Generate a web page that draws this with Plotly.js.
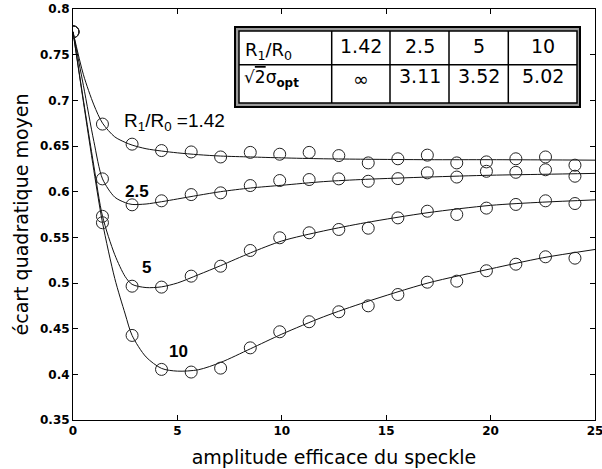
<!DOCTYPE html>
<html>
<head>
<meta charset="utf-8">
<script src="https://cdn.plot.ly/plotly-3.0.1.min.js"></script>
<style>html,body{margin:0;padding:0;background:#fff;}#chart{width:602px;height:469px;}</style>
</head>
<body>
<div id="chart"></div>
<script>
// ---- measured points (open circles) ----
const xMeas = [0, 1.41, 2.83, 4.24, 5.66, 7.07, 8.49, 9.90, 11.31, 12.73, 14.14, 15.56, 16.97, 18.38, 19.80, 21.21, 22.63, 24.04];
const meas142 = [0.775, 0.674, 0.652, 0.645, 0.6435, 0.638, 0.643, 0.641, 0.643, 0.6395, 0.6315, 0.636, 0.640, 0.6315, 0.6326, 0.636, 0.638, 0.629];
const meas25  = [0.775, 0.614, 0.5856, 0.590, 0.5968, 0.5987, 0.6067, 0.6122, 0.6133, 0.614, 0.6114, 0.6143, 0.6206, 0.616, 0.6223, 0.6212, 0.624, 0.6169];
const meas5   = [0.775, 0.573, 0.4965, 0.4955, 0.5075, 0.5184, 0.5356, 0.5495, 0.555, 0.5586, 0.560, 0.5713, 0.5786, 0.575, 0.582, 0.586, 0.590, 0.587];
const meas10  = [0.775, 0.566, 0.4426, 0.4054, 0.4025, 0.4068, 0.429, 0.4466, 0.4576, 0.4685, 0.475, 0.4874, 0.5009, 0.502, 0.5134, 0.5206, 0.5287, 0.5272];

// ---- fitted curves (solid lines) ----
const fitX   = [0, 0.5, 1.0, 1.414, 2.0, 2.5, 2.83, 3.5, 4.24, 5.0, 6.0, 7.07, 8.5, 10, 12, 14, 17, 20, 22.5, 25];
const fit142 = [0.775, 0.728, 0.695, 0.675, 0.660, 0.654, 0.651, 0.647, 0.6445, 0.6425, 0.6405, 0.639, 0.638, 0.637, 0.636, 0.6355, 0.635, 0.635, 0.6348, 0.6345];
const fit25  = [0.775, 0.716, 0.655, 0.614, 0.594, 0.588, 0.586, 0.5865, 0.589, 0.592, 0.596, 0.600, 0.604, 0.607, 0.611, 0.6135, 0.616, 0.618, 0.619, 0.620];
const fit5   = [0.775, 0.700, 0.628, 0.573, 0.531, 0.507, 0.4985, 0.4950, 0.4958, 0.500, 0.509, 0.519, 0.533, 0.546, 0.557, 0.566, 0.577, 0.585, 0.5885, 0.591];
const fit10  = [0.775, 0.698, 0.623, 0.566, 0.505, 0.466, 0.4426, 0.419, 0.4065, 0.4035, 0.405, 0.413, 0.428, 0.444, 0.463, 0.479, 0.500, 0.5155, 0.5276, 0.5367];

// ---- labels ----
const curveLabels = ["R<sub>1</sub>/R<sub>0</sub> =1.42", "2.5", "5", "10"];
const tableRow1 = ["R<sub>1</sub>/R<sub>0</sub>", "1.42", "2.5", "5", "10"];
const tableRow2 = ["√<span style=\"text-decoration:overline\">2</span>σ<sub><b>opt</b></sub>", "∞", "3.11", "3.52", "5.02"];
const xTicks = [0, 5, 10, 15, 20, 25];
const yTicks = [0.35, 0.4, 0.45, 0.5, 0.55, 0.6, 0.65, 0.7, 0.75, 0.8];
const yTickText = ["0.35", "0.4", "0.45", "0.5", "0.55", "0.6", "0.65", "0.7", "0.75", "0.8"];
const xTitle = "amplitude efficace du speckle";
const yTitle = "écart quadratique moyen";

// ---- layout geometry (pixels) ----
const M = {l: 73, r: 7, t: 9, b: 49};
const W = 602, H = 469;
const PW = W - M.l - M.r, PH = H - M.t - M.b;
const px = v => (v - M.l) / PW;       // pixel x -> paper
const py = v => (H - M.b - v) / PH;   // pixel y -> paper

const LINE = '#111';
const fits = [fit142, fit25, fit5, fit10];
const meas = [meas142, meas25, meas5, meas10];
const traces = [];
fits.forEach(f => traces.push({x: fitX, y: f, mode: 'lines', line: {color: LINE, width: 1, shape: 'spline', smoothing: 0.8}, hoverinfo: 'skip', showlegend: false}));
meas.forEach(m => traces.push({x: xMeas, y: m, mode: 'markers', marker: {symbol: 'circle-open', size: 12, color: '#222', line: {width: 1, color: '#222'}}, showlegend: false}));

// table geometry
const colEdges = [239, 331.7, 390, 449, 508.3, 577];
const shapes = [];
shapes.push({type: 'rect', xref: 'paper', yref: 'paper', x0: px(235), x1: px(580), y0: py(107), y1: py(27), line: {color: '#000', width: 2}, fillcolor: '#9a9a9a'});
shapes.push({type: 'rect', xref: 'paper', yref: 'paper', x0: px(239), x1: px(577), y0: py(103), y1: py(31), line: {color: '#000', width: 1.5}, fillcolor: '#ffffff'});
shapes.push({type: 'line', xref: 'paper', yref: 'paper', x0: px(239), x1: px(577), y0: py(64.7), y1: py(64.7), line: {color: '#000', width: 1.5}});
for (let i = 1; i < colEdges.length - 1; i++) {
  shapes.push({type: 'line', xref: 'paper', yref: 'paper', x0: px(colEdges[i]), x1: px(colEdges[i]), y0: py(103), y1: py(31), line: {color: '#000', width: 1.5}});
}

const annotations = [];
const tblFont = {family: 'DejaVu Sans', size: 19, color: '#000'};
// row 1
annotations.push({xref: 'paper', yref: 'paper', x: px(243), y: py(51), xanchor: 'left', yanchor: 'middle', text: tableRow1[0], showarrow: false, font: {family: 'DejaVu Sans', size: 18, color: '#000'}});
for (let i = 1; i < 5; i++) {
  annotations.push({xref: 'paper', yref: 'paper', x: px((colEdges[i] + colEdges[i + 1]) / 2), y: py(46), xanchor: 'center', yanchor: 'middle', text: tableRow1[i], showarrow: false, font: tblFont});
}
// row 2
annotations.push({xref: 'paper', yref: 'paper', x: px(242), y: py(78), xanchor: 'left', yanchor: 'middle', text: tableRow2[0], showarrow: false, font: {family: 'DejaVu Sans', size: 17, color: '#000'}});
for (let i = 1; i < 5; i++) {
  annotations.push({xref: 'paper', yref: 'paper', x: px((colEdges[i] + colEdges[i + 1]) / 2), y: py(i === 1 ? 79 : 76), xanchor: 'center', yanchor: 'middle', text: tableRow2[i], showarrow: false, font: tblFont});
}
// curve labels
const labelPos = [[122, 122], [123, 191], [140, 267.5], [167, 351.5]];
curveLabels.forEach((t, i) => {
  annotations.push({xref: 'paper', yref: 'paper', x: px(labelPos[i][0]), y: py(labelPos[i][1]), xanchor: 'left', yanchor: 'middle', text: t, showarrow: false,
    font: i === 0 ? {family: 'Liberation Sans', size: 19, color: '#000'} : {family: 'Liberation Sans', size: 17, color: '#000', weight: 'bold'}});
});

const tickFont = {family: 'DejaVu Sans', size: 12, color: '#000', weight: 'bold'};
const layout = {
  width: W, height: H,
  margin: M,
  paper_bgcolor: '#fff', plot_bgcolor: '#fff',
  showlegend: false,
  xaxis: {range: [0, 25], tickvals: xTicks, ticks: 'inside', ticklen: 5, tickcolor: '#000', mirror: 'ticks', showline: true, linecolor: '#000', linewidth: 1,
    showgrid: false, zeroline: false, tickfont: tickFont, ticklabeloverflow: 'allow',
    title: {text: xTitle, font: {family: 'DejaVu Sans', size: 19, color: '#000'}, standoff: 13}},
  yaxis: {range: [0.35, 0.8], tickvals: yTicks, ticktext: yTickText, ticks: 'inside', ticklen: 5, tickcolor: '#000', mirror: 'ticks', showline: true, linecolor: '#000', linewidth: 1,
    showgrid: false, zeroline: false, tickfont: tickFont, ticklabeloverflow: 'allow',
    title: {text: yTitle, font: {family: 'DejaVu Sans', size: 19, color: '#000'}, standoff: 6}},
  shapes: shapes,
  annotations: annotations
};
Plotly.newPlot('chart', traces, layout, {displayModeBar: false, staticPlot: true});
</script>
</body>
</html>
